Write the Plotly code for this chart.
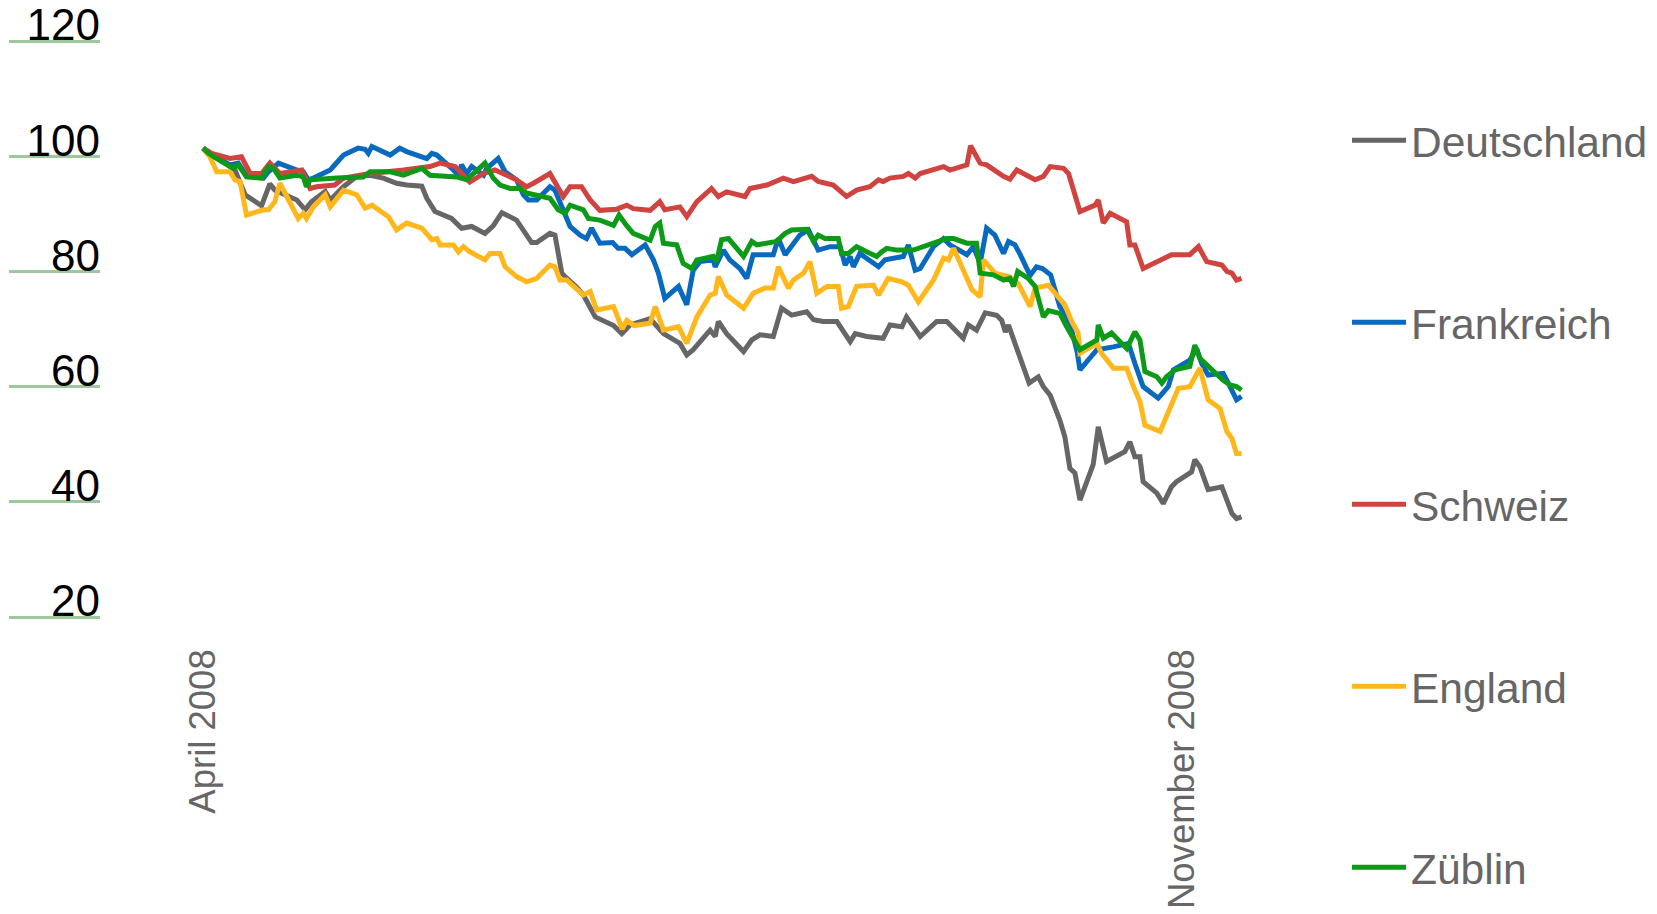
import pandas as pd
import plotly.graph_objects as go

START = pd.Timestamp("2008-04-01")

# day offsets since 1 April 2008 and index values
de_days = [0, 7.0, 9.2, 12.8, 14.6, 15.7, 20.5, 22.3, 23.7, 26.7, 27.8, 30.7, 33.6, 36.5, 39.4, 42.3, 44.5, 47.8, 48.9, 50.7,
           54.3, 56.5, 58.7, 61.6, 63.4, 65.3, 68.5, 71.8, 72.9, 75.8, 76.9, 78.4, 79.1, 81.6, 83.1, 85.7, 89.7, 91.5, 93.3, 97.7,
           100.6, 104.2, 105.7, 107.1, 110.8, 111.9, 112.6, 114.4, 118.1, 119.9, 121.7, 124.6, 126.4, 128.6, 131.9, 133.4, 135.5,
           138.5, 141.4, 142.5, 145.0, 147.2, 148.6, 150.1, 152.7, 153.7, 156.7, 160.3, 162.5, 166.1, 167.2, 169.0, 170.9, 173.4,
           174.5, 175.3, 176.0, 177.4, 180.5, 182.5, 183.6, 185.1, 187.2, 188.3, 189.4, 190.5, 191.6, 194.5, 195.6, 197.4, 201.4,
           202.5, 203.6, 204.7, 205.4, 208.4, 209.8, 211.6, 212.7, 216.0, 216.7, 217.8, 219.6, 222.6, 223.7, 224.8, 225.8, 226.9]
de_vals = [101.4, 97.6, 93.3, 91.4, 95.2, 94.1, 92.4, 90.7, 92.1, 93.9, 92.4, 94.7, 96.5, 96.7, 96.2, 95.3, 95.0, 94.8, 92.7, 90.4,
           89.2, 87.5, 87.8, 86.6, 87.9, 90.2, 88.9, 85.0, 85.0, 86.6, 86.3, 79.7, 79.1, 77.3, 75.9, 72.1, 70.6, 69.2, 70.7, 71.8,
           69.2, 67.5, 65.5, 66.4, 69.8, 68.7, 71.3, 69.2, 66.1, 68.1, 69.0, 68.7, 73.6, 72.4, 73.0, 71.6, 71.3,
           71.3, 67.8, 69.2, 68.7, 68.4, 68.4, 70.7, 70.4, 72.1, 68.7, 71.3, 71.3, 68.4, 70.7, 69.8, 72.8, 72.4,
           71.5, 69.5, 70.7, 67.5, 60.6, 61.7, 60.0, 58.5, 54.2, 51.3, 45.8, 45.0, 40.3, 46.5, 53.0, 47.0, 48.7,
           50.4, 47.8, 47.8, 43.5, 41.5, 39.7, 42.6, 43.5, 45.2, 47.3, 46.1, 42.1, 42.6, 40.0, 38.0, 37.1, 37.4]

fr_days = [0, 1.5, 5.9, 7.7, 9.5, 13.2, 14.3, 16.5, 20.5, 21.9, 23.0, 24.1, 27.8, 30.7, 33.9, 35.4, 36.1, 36.9, 40.9, 43.0,
           44.5, 46.7, 48.9, 50.0, 51.1, 54.7, 55.8, 56.5, 57.6, 58.7, 61.3, 62.0, 64.5, 66.0, 68.5, 70.0, 71.1, 72.9, 74.7, 75.8,
           76.9, 79.1, 80.2, 82.4, 83.8, 84.9, 86.7, 89.5, 90.7, 92.2, 93.7, 96.6, 98.4, 99.5, 100.9, 103.9, 105.7, 107.1, 108.6,
           111.5, 111.9, 113.7, 115.1, 117.3, 118.8, 120.2, 124.6, 125.7, 127.2, 130.4, 132.3, 134.4, 137.0, 139.2, 140.3, 141.4,
           142.1, 143.5, 147.6, 149.0, 153.0, 154.1, 155.6, 156.7, 159.6, 161.8, 163.2, 166.9, 168.3, 169.8, 171.2, 173.0, 174.9,
           176.0, 177.4, 178.5, 180.7, 182.1, 183.4, 185.2, 187.2, 189.4, 191.0, 191.6, 195.3, 198.9, 202.2, 203.6, 205.4, 208.7,
           210.9, 212.0, 215.6, 217.1, 218.2, 219.6, 222.9, 224.4, 225.8, 226.9]
fr_vals = [101.4, 100.5, 98.5, 98.8, 96.6, 96.2, 97.3, 98.8, 97.6, 97.3, 95.9, 96.2, 97.6, 100.2, 101.4, 101.2, 100.5, 101.7, 100.2, 101.4,
           100.8, 100.2, 99.6, 100.5, 100.2, 97.6, 96.7, 98.5, 97.0, 98.2, 96.7, 97.9, 99.6, 97.3, 95.9, 93.3, 92.4, 92.4, 93.8, 94.7,
           94.1, 89.5, 87.8, 86.3, 85.7, 87.5, 84.9, 85.0, 84.0, 84.0, 82.9, 84.6, 82.0, 79.7, 75.3, 77.4, 74.2, 80.2, 81.7,
           82.0, 80.8, 83.7, 82.0, 80.5, 78.8, 82.9, 82.9, 85.7, 82.9, 86.3, 87.2, 83.7, 84.3, 84.3, 81.1, 82.6,
           80.8, 83.1, 80.8, 82.0, 82.6, 84.6, 80.2, 80.5, 84.3, 85.7, 84.6, 82.9, 84.3, 81.4, 87.5, 86.3, 83.1,
           85.2, 84.6, 83.0, 79.3, 80.8, 80.5, 79.4, 73.9, 71.0, 66.0, 62.9, 66.4, 66.9, 67.5, 64.0, 60.0, 58.0,
           60.0, 62.9, 64.6, 66.6, 64.0, 62.0, 62.3, 60.0, 57.7, 58.3]

ch_days = [0, 1.9, 5.9, 8.4, 10.3, 12.8, 14.6, 16.8, 21.6, 23.4, 24.8, 28.8, 30.7, 36.5, 43.8, 49.6, 51.8, 55.1, 58.3, 61.3,
           63.8, 68.5, 70.7, 72.2, 75.8, 78.7, 80.2, 82.7, 84.6, 86.7, 90.4, 92.6, 94.0, 97.7, 99.8, 100.9, 104.2, 105.7, 107.9,
           111.1, 112.6, 114.4, 118.4, 119.5, 123.2, 126.8, 129.0, 133.0, 134.4, 137.7, 140.6, 142.8, 145.7, 147.6, 148.6, 150.1,
           153.0, 154.1, 155.6, 156.7, 161.8, 163.2, 166.9, 167.7, 169.8, 171.2, 174.9, 176.3, 177.8, 181.8, 183.6, 185.1, 188.0,
           189.1, 191.6, 194.9, 195.6, 196.7, 198.2, 201.8, 202.5, 203.6, 205.4, 208.7, 211.6, 215.6, 217.5, 219.3, 222.6, 223.7,
           224.8, 225.8, 226.9]
ch_vals = [101.4, 100.5, 99.6, 99.9, 97.0, 97.0, 98.8, 97.0, 97.6, 94.4, 94.7, 95.0, 96.2, 97.0, 97.6, 98.2, 98.8, 98.2, 95.5, 97.0,
           97.6, 95.9, 94.7, 95.3, 97.0, 93.0, 94.7, 94.7, 92.4, 90.6, 90.8, 91.5, 90.9, 90.6, 92.1, 90.7, 91.2, 89.5, 92.1,
           94.4, 93.0, 93.8, 93.0, 94.4, 95.0, 96.2, 95.6, 96.5, 95.6, 95.0, 93.0, 94.1, 94.7, 95.9, 95.6, 96.2,
           96.5, 97.0, 96.2, 97.0, 98.2, 97.6, 98.5, 101.8, 98.8, 98.5, 96.5, 96.0, 97.6, 95.9, 96.5, 98.2, 97.9,
           97.0, 90.4, 91.5, 92.4, 88.4, 90.1, 88.6, 84.6, 84.6, 80.5, 81.7, 82.9, 82.9, 84.3, 81.7, 81.1, 80.0,
           79.7, 78.5, 78.8]

en_days = [0, 1.5, 3.0, 5.9, 7.0, 8.1, 9.5, 13.2, 14.3, 15.7, 16.8, 20.8, 21.9, 22.6, 24.1, 26.7, 27.8, 30.7, 33.6, 35.4,
           36.9, 40.5, 42.3, 44.5, 47.8, 50.0, 51.1, 51.8, 54.7, 55.8, 56.9, 58.3, 61.6, 62.7, 64.9, 66.0, 68.5, 70.7, 72.9, 75.8,
           76.9, 78.0, 79.5, 83.1, 84.6, 86.0, 89.7, 91.6, 92.6, 94.2, 97.7, 98.8, 100.6, 103.9, 105.7, 107.9, 110.8, 111.9, 112.6,
           114.4, 118.1, 120.2, 122.8, 124.6, 125.7, 127.9, 129.0, 131.2, 132.6, 134.1, 136.3, 138.8, 139.5, 141.0, 142.8, 146.5,
           147.6, 149.7, 152.7, 154.1, 156.3, 159.6, 161.8, 162.9, 164.0, 166.1, 168.0, 169.8, 170.5, 173.0, 176.3, 178.1, 180.7,
           181.8, 184.7, 188.3, 189.8, 191.2, 191.6, 195.3, 196.3, 198.9, 201.8, 203.3, 204.7, 205.8, 209.1, 213.1, 215.6, 217.8,
           219.6, 222.2, 223.7, 224.8, 225.8, 226.9]
en_vals = [101.4, 99.9, 97.3, 97.3, 95.9, 95.6, 89.8, 90.7, 90.7, 92.1, 95.3, 89.2, 90.1, 89.2, 91.2, 93.3, 91.2, 94.1, 93.3, 91.0,
           91.5, 89.5, 87.2, 88.4, 87.5, 85.5, 85.7, 84.6, 84.6, 83.4, 84.3, 83.4, 82.0, 83.1, 83.1, 80.8, 79.1, 78.2, 78.8, 81.1,
           80.8, 78.5, 78.5, 75.9, 76.5, 73.3, 73.9, 70.0, 71.5, 70.6, 71.0, 73.9, 69.8, 70.4, 67.5, 72.1, 75.9, 76.2, 79.1,
           75.9, 73.6, 76.2, 77.1, 77.1, 80.8, 77.1, 78.5, 79.7, 81.7, 76.2, 77.4, 77.4, 73.6, 73.9, 77.4, 77.6,
           75.9, 78.8, 78.2, 77.6, 74.7, 78.5, 82.3, 82.0, 84.0, 80.2, 76.8, 75.6, 82.0, 79.7, 79.0, 77.9, 73.9,
           77.1, 77.6, 74.2, 71.3, 69.3, 65.8, 67.5, 65.8, 63.2, 63.2, 60.0, 57.4, 53.3, 52.2, 59.7, 60.0, 63.2,
           57.7, 56.2, 52.2, 51.0, 48.4, 48.4]

zu_days = [0, 1.2, 3.0, 6.6, 7.7, 9.5, 12.8, 14.3, 15.4, 16.8, 20.5, 21.9, 22.6, 23.4, 29.2, 35.0, 36.5, 40.9, 43.8, 47.8,
           49.6, 55.4, 57.6, 61.6, 63.4, 64.9, 67.1, 69.3, 70.7, 72.9, 75.8, 77.6, 79.1, 80.2, 83.1, 84.2, 86.7, 89.7, 90.9, 92.4,
           94.0, 97.7, 98.8, 99.8, 100.6, 103.5, 104.9, 106.8, 107.9, 111.5, 112.2, 113.3, 114.8, 118.1, 119.9, 121.0, 125.3,
           127.2, 128.6, 131.9, 133.4, 134.4, 135.9, 138.8, 139.5, 141.0, 142.8, 145.0, 147.2, 148.3, 149.4, 151.6, 155.2, 159.6,
           162.5, 164.0, 166.9, 169.0, 169.8, 172.7, 174.9, 176.3, 177.1, 178.0, 180.3, 181.8, 183.6, 184.7, 187.2, 188.7, 189.8,
           191.6, 195.3, 195.6, 196.7, 198.5, 201.8, 203.6, 204.7, 205.8, 208.4, 209.5, 210.5, 212.4, 215.6, 216.7, 217.8, 219.6,
           221.5, 222.9, 224.4, 225.8, 226.9]
zu_vals = [101.4, 100.5, 99.6, 97.9, 98.5, 96.4, 96.2, 98.2, 97.9, 96.2, 96.7, 96.4, 94.7, 95.9, 96.2, 96.4, 97.3, 97.3, 96.7, 97.9,
           96.7, 96.4, 95.9, 98.8, 96.2, 95.0, 94.4, 94.4, 93.6, 93.3, 92.7, 90.7, 90.1, 91.5, 90.7, 89.2, 88.9, 88.0, 89.8, 88.1,
           86.6, 85.4, 87.8, 88.4, 84.9, 84.6, 81.4, 80.5, 82.0, 82.6, 81.7, 85.5, 85.7, 82.6, 85.2, 84.6, 85.2,
           86.6, 87.2, 87.3, 85.2, 86.3, 85.7, 85.7, 83.1, 83.1, 84.3, 83.4, 82.6, 83.4, 84.0, 83.7, 83.7, 84.9,
           85.7, 85.7, 84.9, 84.9, 79.7, 79.4, 78.5, 78.8, 77.4, 80.0, 78.8, 77.4, 72.1, 73.2, 72.7, 70.4, 69.0,
           66.4, 68.1, 70.7, 68.4, 69.3, 66.6, 69.5, 68.1, 62.6, 61.7, 60.6, 61.7, 62.9, 63.5, 67.2, 64.9, 63.5,
           62.3, 61.1, 60.3, 60.0, 59.4]

series_names = ["Deutschland", "Frankreich", "Schweiz", "England", "Züblin"]
series_days = [de_days, fr_days, ch_days, en_days, zu_days]
series_vals = [de_vals, fr_vals, ch_vals, en_vals, zu_vals]
series_colors = ["#666666", "#0869be", "#d0433f", "#ffb71b", "#0c9a18"]

y_ticks = [20, 40, 60, 80, 100, 120]
x_tick_dates = ["2008-04-01", "2008-11-01"]
x_tick_text = ["April 2008", "November 2008"]

W, H = 1657, 914
FONT = "Liberation Sans, Arial, Helvetica, sans-serif"

# pixel geometry
PX_PER_DAY = 4.577
X0 = 203          # pixel of 1 April 2008
PLOT_L, PLOT_R = 185, 1260
PLOT_T, PLOT_B = 0, 641
Y120, PX_PER_UNIT = 41, 5.76

y_lo = 120 - (PLOT_B - Y120) / PX_PER_UNIT
y_hi = 120 + (Y120 - PLOT_T) / PX_PER_UNIT
x_lo = START + pd.Timedelta(days=(PLOT_L - X0) / PX_PER_DAY)
x_hi = START + pd.Timedelta(days=(PLOT_R - X0) / PX_PER_DAY)
ydom = [1 - PLOT_B / H, 1 - PLOT_T / H]

legend_centers = [140.5, 322.5, 504.5, 686.5, 867.5]
ITEM_W = 54
LEG_X = 1411 - (ITEM_W + 10)

fig = go.Figure()
layout_legends = {}
for i, (name, days, vals, col) in enumerate(zip(series_names, series_days, series_vals, series_colors)):
    lname = "legend" if i == 0 else f"legend{i+1}"
    dates = START + pd.to_timedelta(days, unit="D")
    fig.add_trace(go.Scatter(x=dates, y=vals, mode="lines", name=name,
                             line=dict(color=col, width=5), legend=lname,
                             xaxis="x", yaxis="y"))
    layout_legends[lname] = dict(x=LEG_X / W, xanchor="left", y=1 - legend_centers[i] / H, yanchor="middle",
                                 font=dict(family=FONT, size=42.5, color="#666666"), itemwidth=ITEM_W,
                                 bgcolor="rgba(0,0,0,0)", borderwidth=0)

# empty trace for the gridline/label subplot
fig.add_trace(go.Scatter(x=[], y=[], xaxis="x2", yaxis="y2", showlegend=False, hoverinfo="skip"))

fig.update_layout(
    width=W, height=H,
    margin=dict(l=0, r=0, t=0, b=0, autoexpand=False),
    paper_bgcolor="white", plot_bgcolor="rgba(0,0,0,0)",
    font=dict(family=FONT),
    xaxis=dict(domain=[PLOT_L / W, PLOT_R / W], range=[x_lo, x_hi], type="date",
               showgrid=False, zeroline=False, showline=False, ticks="", automargin=False,
               tickmode="array", tickvals=x_tick_dates, ticktext=x_tick_text,
               tickangle=-90, tickfont=dict(family=FONT, size=36.5, color="#666666"),
               anchor="y"),
    yaxis=dict(domain=ydom, range=[y_lo, y_hi], visible=False, anchor="x", automargin=False),
    xaxis2=dict(domain=[9 / W, 100 / W], range=[0, 1], visible=False, anchor="y2", automargin=False),
    yaxis2=dict(domain=ydom, range=[y_lo, y_hi], anchor="x2", side="right", automargin=False,
                showgrid=True, gridcolor="#9cc89c", gridwidth=2.5, zeroline=False, showline=False,
                ticks="", tickmode="array", tickvals=y_ticks, ticklabelposition="inside",
                ticklabeloverflow="allow", ticklabelshift=-16, ticklabelstandoff=-3,
                tickfont=dict(family=FONT, size=44, color="#000000")),
    showlegend=True,
    **layout_legends,
)

fig.write_html("out.html")
